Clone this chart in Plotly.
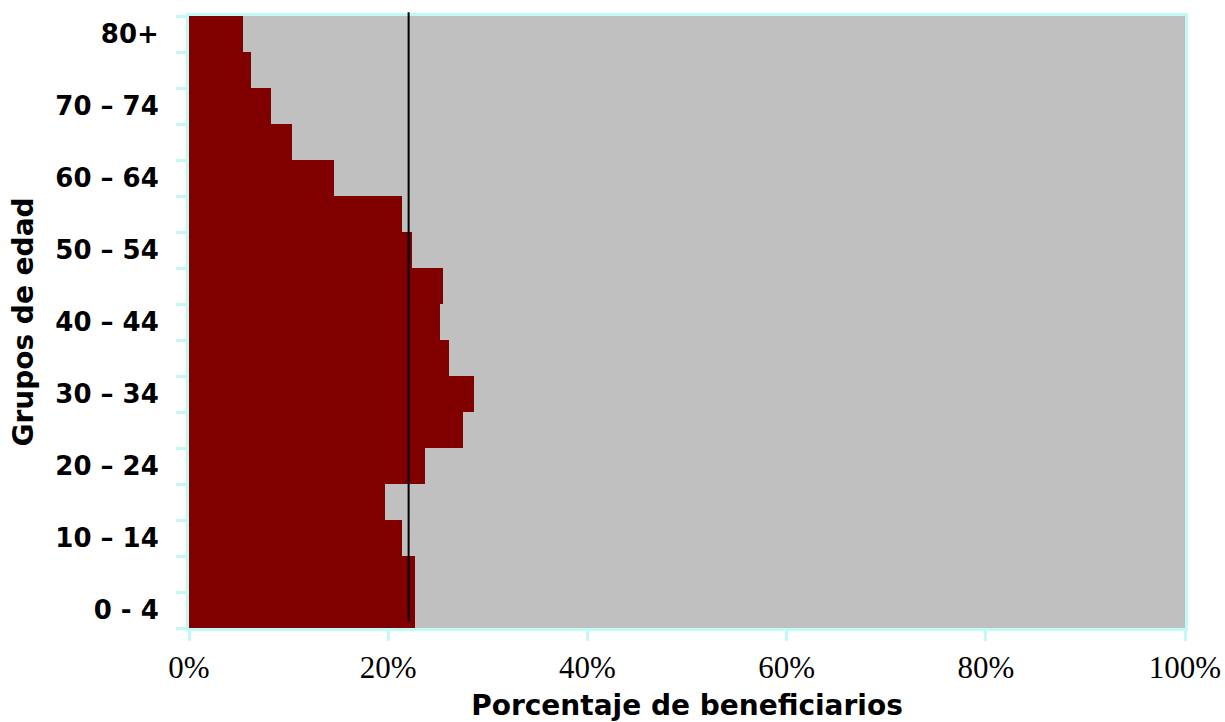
import plotly.graph_objects as go

# Age groups, bottom to top
age_groups = ["0 - 4", "5 – 9", "10 – 14", "15 – 19", "20 – 24", "25 – 29", "30 – 34",
              "35 – 39", "40 – 44", "45 – 49", "50 – 54", "55 – 59", "60 – 64",
              "65 – 69", "70 – 74", "75 – 79", "80+"]
# Share of beneficiaries per age group (%)
beneficiaries_pct = [22.7, 22.7, 21.4, 19.7, 23.7, 27.5, 28.6, 26.1, 25.2, 25.5,
                     22.4, 21.4, 14.6, 10.3, 8.2, 6.2, 5.4]
remainder_pct = [100 - v for v in beneficiaries_pct]
# Overall average share
average_pct = 22.05
# Only every other group is labelled
shown_labels = ["0 - 4", "10 – 14", "20 – 24", "30 – 34", "40 – 44",
                "50 – 54", "60 – 64", "70 – 74", "80+"]
tick_text = [g if g in shown_labels else "" for g in age_groups]
x_ticks = [0, 20, 40, 60, 80, 100]
x_tick_text = [f"{v}%" for v in x_ticks]

AXIS_COLOR = "#c0faf6"

fig = go.Figure()
fig.add_trace(go.Bar(y=age_groups, x=beneficiaries_pct, orientation="h",
                     marker=dict(color="#800000", line=dict(width=0)),
                     name="Beneficiarios"))
fig.add_trace(go.Bar(y=age_groups, x=remainder_pct, orientation="h",
                     marker=dict(color="#c0c0c0", line=dict(width=0)),
                     name="Resto"))

fig.add_shape(type="line", xref="x", yref="paper",
              x0=average_pct, x1=average_pct, y0=0.011, y1=1.006,
              line=dict(color="black", width=2))

fig.update_layout(
    barmode="stack", bargap=0, showlegend=False,
    width=1225, height=722,
    margin=dict(l=189, r=40, t=16, b=94),
    paper_bgcolor="white", plot_bgcolor="white",
    xaxis=dict(range=[0, 100], tickmode="array", tickvals=x_ticks, ticktext=x_tick_text,
               automargin=False, showgrid=False, zeroline=False,
               showline=True, linecolor=AXIS_COLOR, linewidth=3, mirror=True,
               ticks="outside", ticklen=10, tickwidth=3, tickcolor=AXIS_COLOR,
               tickfont=dict(family="Liberation Serif", size=31, color="black"),
               title=dict(text="<b>Porcentaje de beneficiarios</b>", standoff=16,
                          font=dict(family="DejaVu Sans", size=28, color="black"))),
    yaxis=dict(type="category", categoryorder="array", categoryarray=age_groups,
               tickmode="array", tickvals=age_groups, ticktext=tick_text,
               tickson="boundaries", automargin=False, showgrid=False, zeroline=False,
               showline=True, linecolor=AXIS_COLOR, linewidth=3, mirror=True,
               ticks="outside", ticklen=10, tickwidth=3, tickcolor=AXIS_COLOR,
               ticklabelstandoff=22,
               tickfont=dict(family="DejaVu Sans", size=26, color="black", weight="bold"),
               title=dict(text="<b>Grupos de edad</b>", standoff=14,
                          font=dict(family="DejaVu Sans", size=28, color="black"))),
)

fig.write_html("out.html")
